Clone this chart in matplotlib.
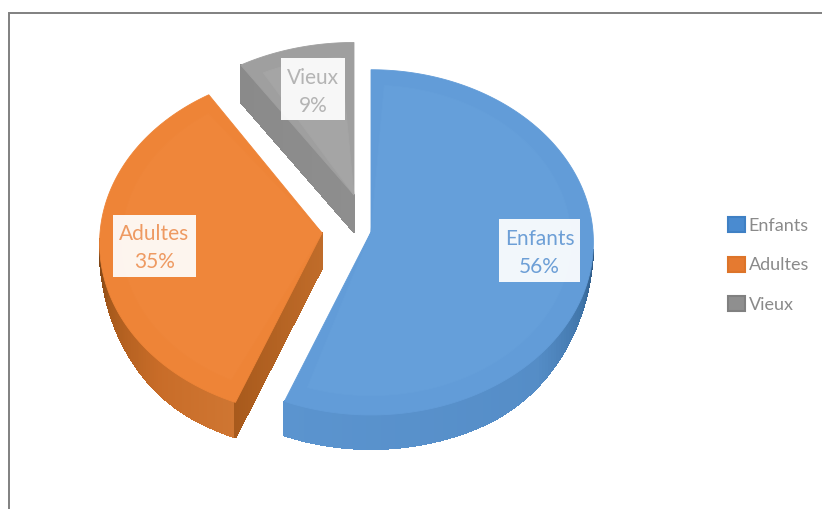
import numpy as np
import matplotlib
matplotlib.use("Agg")
import matplotlib.pyplot as plt
from matplotlib.collections import PolyCollection
from matplotlib.colors import to_rgb
from matplotlib.patches import Patch, Polygon

categories = ["Enfants", "Adultes", "Vieux"]
values = [56, 35, 9]
top_colors = ["#659fda", "#ef863a", "#a5a5a5"]
rim_colors = ["#629cd8", "#ee8437", "#9f9f9f"]
text_colors = ["#6d9fd6", "#ee9a62", "#b4b4b4"]
legend_fill = ["#4a8bd0", "#e57a30", "#8f8f8f"]
legend_edge = ["#3f80c4", "#dd7429", "#808080"]

# exploded slice placement, in pixels
centers = [(371, 232), (322, 233), (354, 195)]
y_scale = [1.0, 1.0, 0.94]
depths = [34, 35, 37]
label_boxes = [(499, 219, 81, 63), (113, 215, 83, 62), (281, 58, 64, 62)]

RX, RY, PERSP = 222, 172, 0.06

plt.rcParams["font.family"] = ["Lato", "DejaVu Sans"]

fig = plt.figure(figsize=(8.22, 5.09), dpi=100)
ax = fig.add_axes([0, 0, 1, 1])
ax.set_xlim(0, 822)
ax.set_ylim(509, 0)
ax.axis("off")

ax.plot([9, 9, 822], [509, 13, 13], color="#808080", lw=1.4, solid_joinstyle="miter")


def project(angle, center, sy=1.0, r=1.0):
    # angle in degrees, clockwise from the back of the tilted disc
    a = np.radians(angle)
    x, y = r * np.sin(a), r * np.cos(a)
    w = 1 + PERSP * y
    return center[0] + RX * x / w, center[1] - RY * sy * y / w


def shade(angle, stops):
    xs = [s[0] for s in stops]
    rgb = [to_rgb(s[1]) for s in stops]
    return [np.interp(angle, xs, [c[i] for c in rgb]) for i in range(3)]


def taper(angle, thin_end):
    return np.sin(min(1, abs(angle - thin_end) / 55) * np.pi / 2)


def outer_wall(a0, a1, center, sy, depth, stops, thin_end, z):
    # the wall tapers away towards the flank of the disc
    angles = np.linspace(a0, a1, 90)
    quads, colors = [], []
    for p, q in zip(angles[:-1], angles[1:]):
        px, py = project(p, center, sy)
        qx, qy = project(q, center, sy)
        dp = depth * taper(p, thin_end)
        dq = depth * taper(q, thin_end)
        quads.append([(px, py), (qx, qy), (qx, qy + dq), (px, py + dp)])
        colors.append(shade((p + q) / 2, stops))
    ax.add_collection(PolyCollection(quads, facecolors=colors, edgecolors=colors, lw=0.8,
                                     antialiased=False, zorder=z))


def cut_wall(angle, center, sy, depth, c_out, c_in, z):
    ts = np.linspace(0, 1, 40)
    ox, oy = project(angle, center, sy)
    quads, colors = [], []
    for t0, t1 in zip(ts[:-1], ts[1:]):
        x0, y0 = ox + (center[0] - ox) * t0, oy + (center[1] - oy) * t0
        x1, y1 = ox + (center[0] - ox) * t1, oy + (center[1] - oy) * t1
        quads.append([(x0, y0), (x1, y1), (x1, y1 + depth), (x0, y0 + depth)])
        c = np.array(to_rgb(c_out)) * (1 - t0) + np.array(to_rgb(c_in)) * t0
        colors.append(c)
    ax.add_collection(PolyCollection(quads, facecolors=colors, edgecolors=colors, lw=0.8,
                                     antialiased=False, zorder=z))


def top_face(a0, a1, center, sy, color, r=1.0, z=3):
    angles = np.linspace(a0, a1, 200)
    xs, ys = project(angles, center, sy, r)
    pts = [(center[0], center[1])] + list(zip(xs, ys))
    ax.add_patch(Polygon(pts, closed=True, facecolor=color, edgecolor=color, lw=0.6, zorder=z))


total = sum(values)
edges = np.cumsum([0] + values) / total * 360

# wall colours run from the shaded flank towards the front
wall_stops = [
    [(96, "#274f78"), (112, "#3f74a8"), (135, "#558dc7"), (202, "#5b94cf")],
    [(202, "#cf7632"), (225, "#c86c28"), (250, "#a85a1c"), (268, "#6e3c12")],
]

# back to front so nearer slices sit on top
for i in [2, 1, 0]:
    a0, a1 = edges[i], edges[i + 1]
    c, sy, d = centers[i], y_scale[i], depths[i]
    if i == 0:
        outer_wall(96, a1, c, sy, d, wall_stops[0], 96, 1)
    if i == 1:
        outer_wall(a0, 268, c, sy, d, wall_stops[1], 268, 1)
        cut_wall(a0, c, sy, d, "#a85a1c", "#c06c2a", 2)
    if i == 2:
        cut_wall(a0, c, sy, d, "#8a8a8a", "#8e8e8e", 2)
    top_face(a0, a1, c, sy, rim_colors[i])
    top_face(a0 + 4, a1 - 4, c, sy, top_colors[i], r=0.9, z=3.1)

for i, (x, y, w, h) in enumerate(label_boxes):
    ax.add_patch(plt.Rectangle((x, y), w, h, facecolor="white", edgecolor="none", alpha=0.92, zorder=4))
    ax.text(x + w / 2, y + h / 2 + 2.5, f"{categories[i]}\n{values[i]}%", color=text_colors[i],
            fontsize=15, ha="center", va="center", linespacing=1.5, zorder=5)

handles = [Patch(facecolor=legend_fill[i], edgecolor=legend_edge[i], lw=1.5, label=categories[i]) for i in range(3)]
ax.legend(handles=handles, loc="center left", bbox_to_anchor=(728, 265), bbox_transform=ax.transData,
          frameon=False, fontsize=13, labelcolor="#8a8a8a", handlelength=0.92, handleheight=0.92,
          handletextpad=0.22, labelspacing=1.25, borderpad=0, borderaxespad=0)

fig.savefig("out.png", dpi=100)
